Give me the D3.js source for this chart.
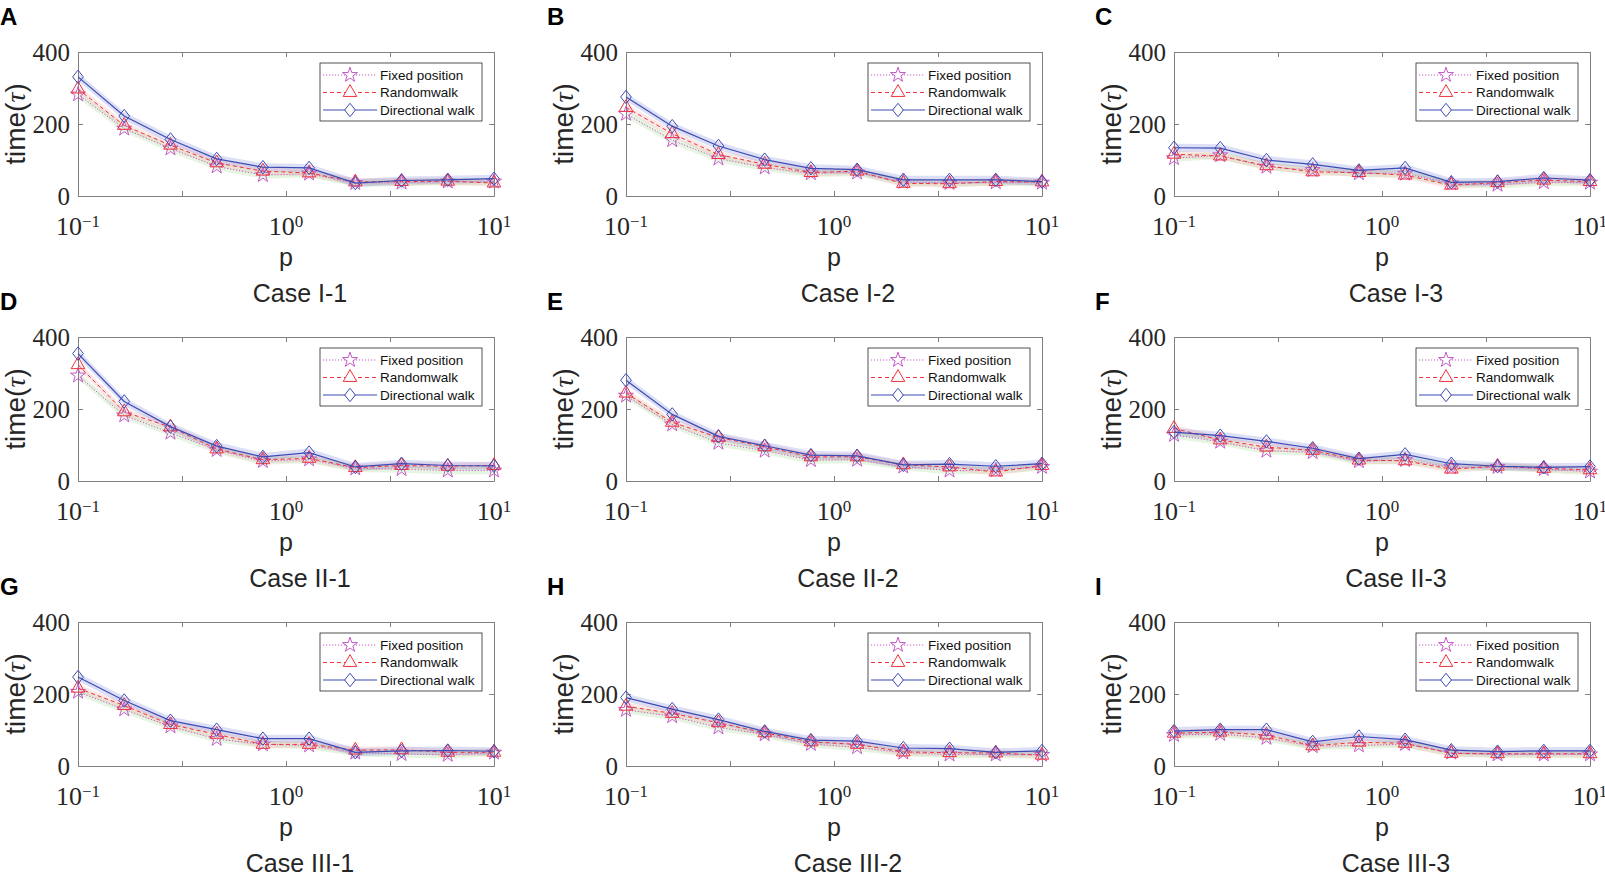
<!DOCTYPE html>
<meta charset="utf-8">
<style>
  body { margin: 0; background: white; }
  .tick text { font-family: "Liberation Serif", serif; }
</style>
<body>
<div id="chart"></div>
<script src="https://d3js.org/d3.v7.min.js"></script>
<script>

// p values (log spaced from 0.1 to 10)
var pValues = [0.1, 0.1668, 0.2783, 0.4642, 0.7743, 1.2915, 2.1544, 3.5938, 5.9948, 10];

var panelLetters = ["A", "B", "C", "D", "E", "F", "G", "H", "I"];
var caseLabels = ["Case I-1", "Case I-2", "Case I-3",
                  "Case II-1", "Case II-2", "Case II-3",
                  "Case III-1", "Case III-2", "Case III-3"];
var seriesNames = ["Fixed position", "Randomwalk", "Directional walk"];

// one row per panel, A..I
var fixedPosition = [
  [282, 187, 132, 82, 58, 62, 36, 37, 40, 40],
  [228, 155, 104, 79, 63, 65, 39, 36, 38, 37],
  [105, 113, 81, 72, 63, 62, 35, 31, 38, 37],
  [293, 182, 134, 86, 55, 60, 35, 33, 29, 29],
  [237, 157, 106, 84, 58, 59, 40, 29, 30, 39],
  [128, 109, 84, 80, 55, 58, 38, 39, 33, 26],
  [206, 157, 110, 75, 60, 57, 37, 33, 31, 37],
  [156, 138, 107, 88, 61, 52, 37, 32, 32, 31],
  [86, 89, 78, 55, 57, 61, 37, 32, 32, 32]
];
var randomWalk = [
  [297, 196, 141, 92, 69, 64, 39, 40, 41, 36],
  [246, 173, 115, 88, 65, 69, 35, 34, 40, 39],
  [116, 111, 84, 67, 65, 58, 30, 37, 44, 40],
  [323, 192, 150, 89, 59, 63, 37, 43, 41, 43],
  [244, 163, 121, 95, 67, 67, 45, 39, 25, 43],
  [146, 114, 94, 85, 58, 56, 33, 41, 35, 31],
  [216, 168, 115, 88, 60, 60, 44, 45, 38, 38],
  [166, 146, 120, 92, 67, 60, 39, 37, 36, 30],
  [91, 94, 86, 56, 66, 63, 35, 34, 34, 34]
];
var directionalWalk = [
  [331, 222, 157, 103, 80, 78, 36, 43, 45, 48],
  [275, 194, 139, 101, 77, 73, 45, 45, 45, 40],
  [134, 133, 100, 88, 71, 78, 38, 40, 50, 44],
  [354, 221, 151, 97, 67, 79, 39, 48, 43, 42],
  [280, 185, 124, 98, 72, 70, 45, 47, 41, 48],
  [136, 126, 110, 91, 62, 74, 48, 41, 38, 40],
  [247, 182, 126, 101, 76, 76, 38, 42, 43, 41],
  [190, 158, 129, 96, 72, 69, 50, 48, 38, 42],
  [97, 101, 101, 67, 82, 73, 44, 40, 42, 42]
];
// shaded spread around each curve (estimated)
var spread = [10, 10, 11];

var yTicks = [0, 200, 400];
var xTicks = [0.1, 0.3162, 1, 3.1623, 10];
var xLabelExp = [-1, 0, 1];

var width = 1605, height = 872;
var colLeft = [78, 626, 1174];
var rowTop = [52, 337, 622];
var plotW = 416, plotH = 144;

var svg = d3.select("#chart").append("svg")
  .attr("width", width)
  .attr("height", height);

var x = d3.scaleLog().domain([0.1, 10]).range([0, plotW]);
var y = d3.scaleLinear().domain([0, 400]).range([plotH, 0]);

// MATLAB-like diamond (a bit taller than wide)
var diamondType = {
  draw: function(ctx, size) {
    var h = Math.sqrt(size) * 0.75, w = h * 0.8;
    ctx.moveTo(0, -h);
    ctx.lineTo(w, 0);
    ctx.lineTo(0, h);
    ctx.lineTo(-w, 0);
    ctx.closePath();
  }
};

var styles = [
  {color: "#c25bc6", dash: "1.2,1.8", width: 1, band: "rgba(150,215,140,0.25)", symbol: d3.symbolStar, size: 70},
  {color: "#f0323c", dash: "4,3", width: 1, band: "rgba(245,140,140,0.20)", symbol: d3.symbolTriangle, size: 80},
  {color: "#3c4bb4", dash: null, width: 1.2, band: "rgba(110,120,215,0.24)", symbol: diamondType, size: 80}
];
var allData = [fixedPosition, randomWalk, directionalWalk];

panelLetters.forEach(function(letter, k) {
  var col = k % 3, row = Math.floor(k / 3);
  var g = svg.append("g")
    .attr("transform", "translate(" + colLeft[col] + "," + rowTop[row] + ")");

  // panel letter
  svg.append("text")
    .attr("x", colLeft[col] - 78 + (col == 0 ? 0 : -1))
    .attr("y", rowTop[row] - 27)
    .style("font-family", "Liberation Sans, Arial, sans-serif")
    .style("font-weight", "bold")
    .style("font-size", "24px")
    .text(letter);

  // bands
  allData.forEach(function(d, s) {
    var vals = d[k];
    var area = d3.area()
      .x(function(v, i) { return x(pValues[i]); })
      .y0(function(v) { return y(Math.max(0, v - spread[s])); })
      .y1(function(v) { return y(v + spread[s]); });
    g.append("path")
      .attr("d", area(vals))
      .style("fill", styles[s].band)
      .style("stroke", "none");
  });

  // axes
  var bottom = g.append("g")
    .attr("transform", "translate(0," + plotH + ")")
    .call(d3.axisBottom(x).tickValues(xTicks).tickSizeInner(-5).tickSizeOuter(0).tickPadding(10).tickFormat(""));
  var top = g.append("g")
    .call(d3.axisTop(x).tickValues(xTicks).tickSizeInner(-5).tickSizeOuter(0).tickFormat(""));
  var left = g.append("g")
    .call(d3.axisLeft(y).tickValues(yTicks).tickSizeInner(-5).tickSizeOuter(0).tickPadding(8));
  var right = g.append("g")
    .attr("transform", "translate(" + plotW + ",0)")
    .call(d3.axisRight(y).tickValues(yTicks).tickSizeInner(-5).tickSizeOuter(0).tickFormat(""));

  [bottom, top, left, right].forEach(function(a) {
    a.selectAll("path.domain").style("stroke", "#808080");
    a.selectAll("line").style("stroke", "#808080");
  });
  left.selectAll("text")
    .style("font-size", "25px")
    .style("fill", "#262626")
    .attr("dy", "0.33em");

  // decade labels with superscripts
  xLabelExp.forEach(function(e) {
    var t = g.append("text")
      .attr("x", x(Math.pow(10, e)))
      .attr("y", plotH + 39)
      .attr("text-anchor", "middle")
      .style("font-family", "Liberation Serif, serif")
      .style("fill", "#262626")
      .style("font-size", "26px");
    t.append("tspan").text("10");
    t.append("tspan")
      .attr("dy", "-0.45em")
      .style("font-size", "17px")
      .text(e < 0 ? "\u2212" + (-e) : String(e));
  });

  // lines + markers
  allData.forEach(function(d, s) {
    var vals = d[k], st = styles[s];
    var line = d3.line()
      .x(function(v, i) { return x(pValues[i]); })
      .y(function(v) { return y(v); });
    g.append("path")
      .attr("d", line(vals))
      .style("fill", "none")
      .style("stroke", st.color)
      .style("stroke-width", st.width)
      .style("stroke-dasharray", st.dash);
    g.selectAll(null)
      .data(vals)
      .enter()
      .append("path")
      .attr("transform", function(v, i) { return "translate(" + x(pValues[i]) + "," + y(v) + ")"; })
      .attr("d", d3.symbol().type(st.symbol).size(st.size))
      .style("fill", "none")
      .style("stroke", st.color)
      .style("stroke-width", 1);
  });

  // legend
  var lg = g.append("g").attr("transform", "translate(" + (plotW - 174) + ",11)");
  lg.append("rect")
    .attr("width", 162).attr("height", 58)
    .style("fill", "white")
    .style("stroke", "#262626")
    .style("stroke-width", 0.8);
  seriesNames.forEach(function(name, s) {
    var st = styles[s], yy = 12 + s * 17.5;
    lg.append("line")
      .attr("x1", 3).attr("x2", 57).attr("y1", yy).attr("y2", yy)
      .style("stroke", st.color)
      .style("stroke-width", st.width)
      .style("stroke-dasharray", st.dash);
    lg.append("path")
      .attr("transform", "translate(30," + yy + ")")
      .attr("d", d3.symbol().type(st.symbol).size(st.size))
      .style("fill", "white")
      .style("stroke", st.color);
    lg.append("text")
      .attr("x", 60).attr("y", yy).attr("dy", "0.35em")
      .style("font-family", "Liberation Sans, Arial, sans-serif")
      .style("font-size", "13.5px")
      .style("fill", "#111")
      .text(name);
  });

  // y label
  var yl = g.append("text")
    .attr("transform", "translate(" + (-53) + "," + (plotH / 2) + ") rotate(-90)")
    .attr("text-anchor", "middle")
    .style("font-family", "Liberation Sans, Arial, sans-serif")
    .style("font-size", "28px")
    .style("fill", "#262626");
  yl.append("tspan").text("time(");
  yl.append("tspan").style("font-family", "Liberation Serif, serif").style("font-style", "italic").text("\u03c4");
  yl.append("tspan").text(")");

  // x label and case label
  g.append("text")
    .attr("x", plotW / 2).attr("y", plotH + 70)
    .attr("text-anchor", "middle")
    .style("font-family", "Liberation Sans, Arial, sans-serif")
    .style("font-size", "25px")
    .style("fill", "#262626")
    .text("p");
  g.append("text")
    .attr("x", plotW / 2 + 14).attr("y", plotH + 106)
    .attr("text-anchor", "middle")
    .style("font-family", "Liberation Sans, Arial, sans-serif")
    .style("font-size", "25px")
    .style("fill", "#262626")
    .text(caseLabels[k]);
});

</script>
